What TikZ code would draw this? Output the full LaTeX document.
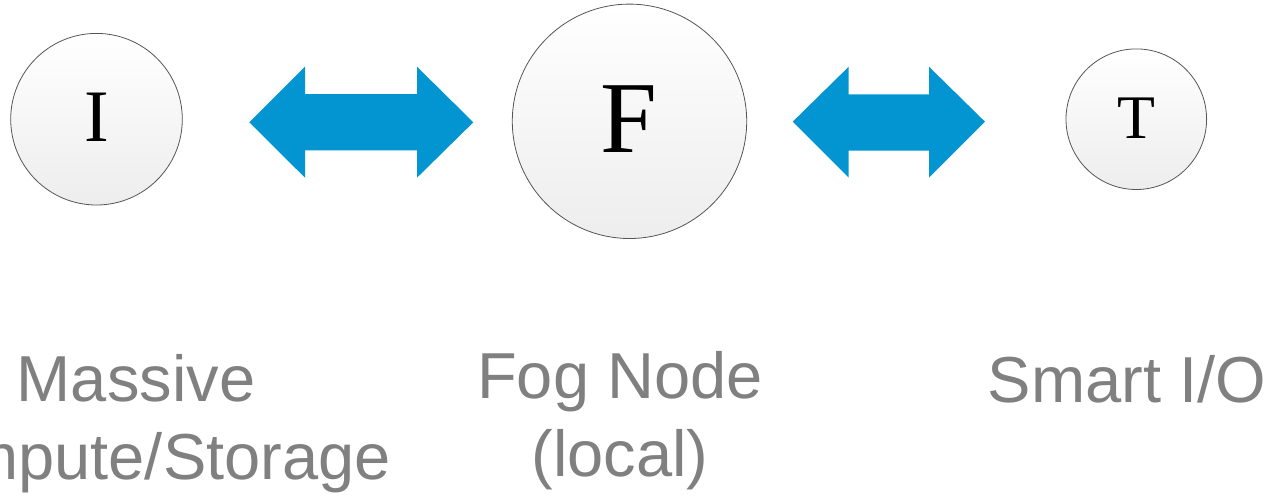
\documentclass[tikz,border=0pt]{standalone}
\usepackage{fontspec}
\setmainfont{Liberation Serif}
\newfontfamily\labelfont{Liberation Sans}
\definecolor{arrowblue}{RGB}{3,149,209}
\definecolor{labelgray}{RGB}{128,128,128}
\definecolor{rimgray}{RGB}{85,85,85}
\begin{document}
\begin{tikzpicture}[x=1pt,y=-1pt,
  ball/.style={circle,draw=rimgray,line width=0.8pt,inner sep=0pt,
    top color=white,bottom color=black!7},
  letter/.style={anchor=base,inner sep=0pt,text=black},
  caption/.style={anchor=base,inner sep=0pt,align=center,text=labelgray,
    font=\labelfont\fontsize{65}{78}\selectfont},
  blockarrow/.style={fill=arrowblue,draw=none}]
\useasboundingbox (0,0) rectangle (1272,496);
\clip (0,0) rectangle (1272,496);
% circles
\node[ball,minimum size=171.6pt] (I) at (96.5,119.2) {};
\node[ball,minimum size=234.4pt] (F) at (629.5,121.3) {};
\node[ball,minimum size=140.6pt] (T) at (1136.3,119.2) {};
% letters
\node[letter,font=\fontsize{74}{74}\selectfont] (Il) at (96.5,141.7) {I};
\node[letter,font=\fontsize{102}{102}\selectfont] (Fl) at (629.3,152.3) {F};
\node[letter,font=\fontsize{62}{62}\selectfont] (Tl) at (1136.3,138.3) {T};
% block arrows
\fill[blockarrow] (249.3,122.3) -- (305,66.7) -- (305,94.2) -- (417,94.2) -- (417,66.7)
  -- (473.3,122.3) -- (417,177.7) -- (417,150.3) -- (305,150.3) -- (305,177.7) -- cycle;
\fill[blockarrow] (792.7,121.7) -- (848.7,66.7) -- (848.7,94.3) -- (929,94.3) -- (929,66.7)
  -- (985,121.7) -- (929,177.7) -- (929,150.7) -- (848.7,150.7) -- (848.7,177.7) -- cycle;
% captions (base anchor = baseline of the last line)
\node[caption] (Ic) at (136,479.7) {Massive\\Compute/Storage};
\node[caption] (Fc) at (620,476.5) {Fog Node\\(local)};
\node[caption] (Tc) at (1127,402) {Smart I/O};
\end{tikzpicture}
\end{document}
